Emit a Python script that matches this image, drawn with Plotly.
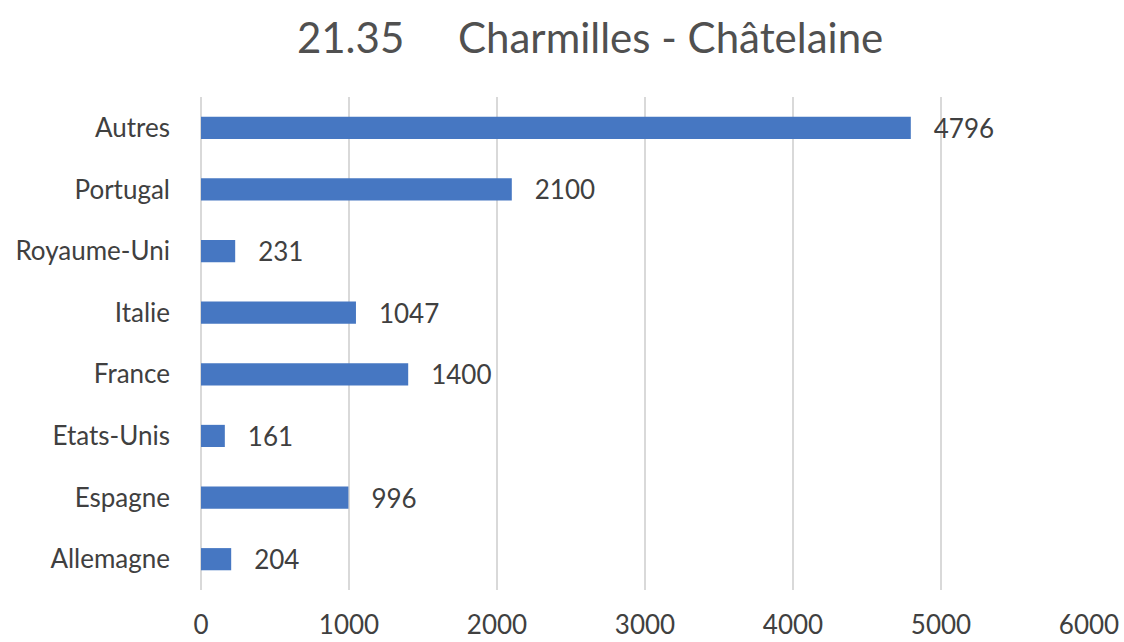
import plotly.graph_objects as go

COUNTRIES = ['Allemagne', 'Espagne', 'Etats-Unis', 'France', 'Italie', 'Royaume-Uni', 'Portugal', 'Autres']
COUNTS = [204, 996, 161, 1400, 1047, 231, 2100, 4796]
X_TICKS = [0, 1000, 2000, 3000, 4000, 5000, 6000]

BLUE = '#4677C2'
TEXT = '#404040'
GRID = '#D9D9D9'
FONT = 'Lato, Open Sans, sans-serif'

fig = go.Figure(go.Bar(
    x=COUNTS, y=COUNTRIES, orientation='h',
    marker=dict(color=BLUE, line=dict(width=0)),
    width=0.36,
    text=COUNTS,
    texttemplate='   %{text}',
    textposition='outside',
    constraintext='none',
    textfont=dict(color=TEXT, size=26, family=FONT),
    cliponaxis=False,
))

fig.update_layout(
    width=1124, height=642,
    paper_bgcolor='white', plot_bgcolor='white',
    font=dict(family=FONT, color=TEXT),
    title=dict(text='21.35&nbsp;&nbsp;&nbsp;&nbsp;&nbsp;Charmilles - Châtelaine',
               x=0.525, xanchor='center', y=0.94, yanchor='middle',
               font=dict(size=42, color='#505050', family=FONT)),
    margin=dict(l=201, r=35, t=97, b=52),
    showlegend=False,
    xaxis=dict(range=[0, 6000], tickvals=X_TICKS, showgrid=True, gridcolor=GRID, gridwidth=2,
               zeroline=True, zerolinecolor=GRID, zerolinewidth=2, showline=False,
               automargin=False,
               ticks='', ticklabelstandoff=17, tickfont=dict(size=26, color=TEXT)),
    yaxis=dict(categoryorder='array', categoryarray=COUNTRIES, showgrid=False,
               showline=False, zeroline=False, ticks='', ticklabelstandoff=30,
               automargin=False,
               tickfont=dict(size=26, color=TEXT)),
)

# drop the default page margin so the figure sits at the window's corner
fig.write_html('out.html', config={'displayModeBar': False},
               post_script="document.body.style.margin='0';")
